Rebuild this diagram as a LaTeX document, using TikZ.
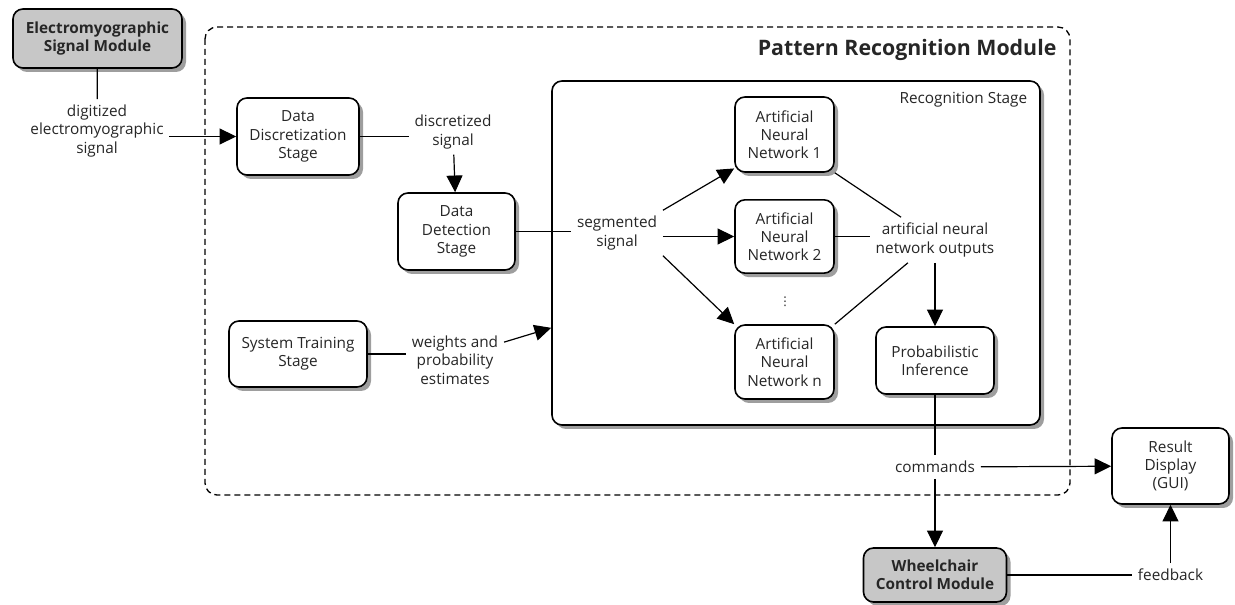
\documentclass[tikz,border=0pt]{standalone}
\usepackage{fontspec}
\setmainfont{Open Sans}
\newfontfamily\dejavu{DejaVu Sans}
\usepackage{tikz}
\usetikzlibrary{arrows.meta}
\usetikzlibrary{shadows}
\usetikzlibrary{calc}

\begin{document}
\begin{tikzpicture}[x=0.75pt, y=-0.75pt, line width=0.9pt,
  every node/.style={font=\fontsize{11.5}{13.7}\selectfont, align=center, text=black!85},
  box/.style={draw, line width=1.2pt, rounded corners=7.5pt, fill=white, inner sep=0pt,
    drop shadow={shadow xshift=3pt, shadow yshift=-3pt, fill=black!38, opacity=1}},
  module/.style={box, fill=black!22, font=\fontsize{11.5}{13.7}\selectfont\bfseries},
  lbl/.style={inner sep=4pt},
  arr/.style={-{Triangle[length=12.5pt, width=12pt]}}]
  \useasboundingbox (0,0) rectangle (1235,605);
  \draw[dash pattern=on 4.5pt off 3pt, rounded corners=9pt, line width=1pt] (205,27) rectangle (1070,495);
  \node[anchor=east, inner sep=0pt, font=\fontsize{16}{19}\selectfont\bfseries] (prm) at (1057,50) {Pattern Recognition Module};
  \node[module, minimum width=126.75pt, minimum height=44.25pt] (emg) at (97.5,38.5) {Electromyographic\\Signal Module};
  \node[lbl] (digit) at (97,131) {digitized\\electromyographic\\signal};
  \node[box, minimum width=91.5pt, minimum height=57.75pt] (disc) at (298,136.5) {Data\\Discretization\\Stage};
  \node[lbl] (discsig) at (453,132) {discretized\\signal};
  \node[box, minimum width=87.75pt, minimum height=57.75pt] (det) at (456.5,231.5) {Data\\Detection\\Stage};
  \node[box, minimum width=103.5pt, minimum height=49.5pt] (train) at (298,354) {System Training\\Stage};
  \node[lbl] (weights) at (455,360) {weights and\\probability\\estimates};
  \node[box, minimum width=366pt, minimum height=258pt] (rec) at (796,253) {};
  \node[anchor=east, inner sep=0pt] (rectitle) at ($(rec.north east)+(-13,20)$) {Recognition Stage};
  \node[lbl] (seg) at (617,233) {segmented\\signal};
  \node[box, minimum width=74.25pt, minimum height=56.25pt] (ann1) at (784.5,134.5) {Artificial\\Neural\\Network 1};
  \node[box, minimum width=74.25pt, minimum height=55pt] (ann2) at (784.5,236.5) {Artificial\\Neural\\Network 2};
  \node[font=\dejavu\fontsize{9}{10}\selectfont] (dots) at (785,302) {⋮};
  \node[box, minimum width=74.25pt, minimum height=55.5pt] (annn) at (784.5,362) {Artificial\\Neural\\Network n};
  \node[lbl] (annout) at (935,240) {artificial neural\\network outputs};
  \node[box, minimum width=88.5pt, minimum height=50.25pt] (prob) at (935,360.5) {Probabilistic\\Inference};
  \node[lbl] (cmd) at (935,467) {commands};
  \node[box, minimum width=87.75pt, minimum height=57pt] (gui) at (1170.5,466) {Result\\Display\\(GUI)};
  \node[module, minimum width=107.25pt, minimum height=40.5pt] (wheel) at (935,575) {Wheelchair\\Control Module};
  \node[lbl] (fb) at (1170.5,575) {feedback};

  \draw (emg) -- (digit);
  \draw[arr] (digit.east |- disc.west) -- (disc);
  \draw (disc) -- (disc.east -| discsig.west);
  \draw[arr] (discsig) -- (det);
  \draw (det) -- (det.east -| seg.west);
  \draw[arr] (seg.north east) -- (ann1.214);
  \draw[arr] (seg.east |- ann2) -- (ann2);
  \draw[arr] (seg.south east) -- (annn.north west);
  \draw (ann1.south east) -- (annout);
  \draw (ann2) -- (ann2.east -| annout.west);
  \draw (annn.north east) -- (annout);
  \draw[arr] (annout) -- (prob);
  \draw (prob) -- (cmd);
  \draw[arr] (cmd) -- (wheel);
  \draw[arr] (cmd) -- (gui);
  \draw (wheel) -- (fb);
  \draw[arr] (fb) -- (gui);
  \draw (train) -- (train.east -| weights.west);
  \draw[arr] (weights.20) -- (rec.197);
\end{tikzpicture}
\end{document}
